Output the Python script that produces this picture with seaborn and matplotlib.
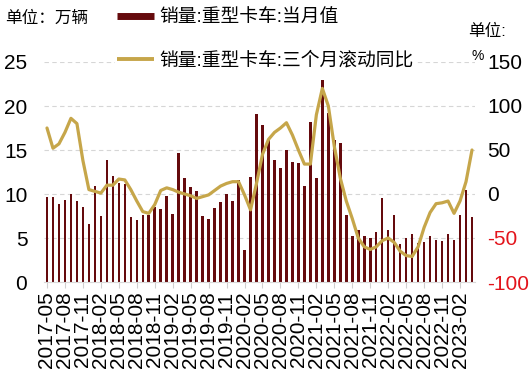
import numpy as np
import pandas as pd
import matplotlib
matplotlib.use("Agg")
import matplotlib.pyplot as plt
import seaborn as sns
from matplotlib.lines import Line2D

# ---- data ----
months = pd.date_range("2017-05-01", periods=72, freq="MS").strftime("%Y-%m").tolist()

sales = [9.7, 9.7, 8.9, 9.3, 10.0, 9.2, 8.5, 6.6, 10.9, 7.5, 13.9, 12.1,
         11.3, 11.1, 7.4, 7.1, 7.6, 7.6, 8.5, 8.3, 9.8, 7.7, 14.7, 11.8,
         10.8, 10.3, 7.5, 7.2, 8.4, 9.1, 10.0, 9.2, 11.6, 3.6, 11.9, 19.1,
         17.8, 16.3, 13.9, 12.9, 15.0, 13.6, 13.5, 10.9, 18.2, 11.8, 22.9, 19.2,
         16.1, 15.8, 7.6, 5.2, 5.9, 5.2, 5.0, 5.7, 9.5, 5.9, 7.6, 4.3,
         5.0, 5.5, 4.4, 4.6, 5.2, 4.8, 4.7, 5.4, 4.8, 7.6, 10.5, 7.4]

yoy3m = [75, 52, 57, 70, 86, 80, 38, 5, 3, 1, 10, 10,
         17, 16, 5, -8, -20, -22, -12, 4, 7, 5, 2, 0,
         -2, -5, -3, -1, 4, 9, 12, 14, 14, -1, -18, 12,
         45, 62, 70, 75, 81, 67, 50, 34, 34, 90, 120, 100,
         54, 18, -8, -28, -50, -60, -63, -60, -53, -50, -55, -65,
         -70, -71, -60, -38, -21, -11, -10, -8, -22, -8, 14, 50]

legend_bar = "销量:重型卡车:当月值"
legend_line = "销量:重型卡车:三个月滚动同比"
left_unit = "单位：万辆"
right_unit = "单位:"
right_unit2 = "%"

left_ticks = [0, 5, 10, 15, 20, 25]
right_ticks = [-100, -50, 0, 50, 100, 150]

bar_color = "#650a0d"
line_color = "#c6a64a"
neg_color = "#e3141b"

# ---- style ----
sns.set_theme(style="white")
plt.rcParams["font.family"] = ["Liberation Sans", "Noto Sans CJK SC"]

W, H = 531, 373
fig = plt.figure(figsize=(W / 100, H / 100), dpi=100)
ax = fig.add_axes([44 / W, 1 - 282 / H, 431 / W, 220 / H])

df = pd.DataFrame({"month": months, "sales": sales, "yoy": yoy3m})
sns.barplot(data=df, x="month", y="sales", color=bar_color, saturation=1,
            width=0.42, linewidth=0, ax=ax)

ax.set_xlim(-0.5, len(months) - 0.5)
ax.set_ylim(0, 25)
ax.set_yticks(left_ticks)
ax.set_yticklabels([str(t) for t in left_ticks])
ax.set_xticks(range(0, len(months), 3))
ax.set_xticklabels(months[::3], rotation=90)
ax.set_xlabel("")
ax.set_ylabel("")
ax.grid(axis="y", color="#d6d6d6", linestyle=(0, (4, 3)), linewidth=0.8)
ax.grid(axis="x", visible=False)
ax.set_axisbelow(True)
for s in ["top", "left", "right"]:
    ax.spines[s].set_visible(False)
ax.spines["bottom"].set_color("#d9d9d9")
ax.spines["bottom"].set_linewidth(0.8)
ax.tick_params(axis="x", length=4, width=0.8, color="#d0d0d0", pad=3,
               labelsize=15, labelcolor="black", bottom=True)
ax.tick_params(axis="y", length=0, pad=12, labelsize=15, labelcolor="black")

ax2 = ax.twinx()
sns.lineplot(x=np.arange(len(yoy3m)), y=yoy3m, ax=ax2, color=line_color,
             linewidth=2.3)
ax2.set_xlim(-0.5, len(months) - 0.5)
ax2.set_ylim(-100, 150)
ax2.set_yticks(right_ticks)
ax2.set_yticklabels([str(t) for t in right_ticks])
ax2.grid(False)
for s in ["top", "left", "right", "bottom"]:
    ax2.spines[s].set_visible(False)
ax2.tick_params(axis="y", length=0, pad=9, labelsize=15)
for lbl, v in zip(ax2.get_yticklabels(), right_ticks):
    lbl.set_color(neg_color if v < 0 else "black")
ax2.set_ylabel("")

# ---- legends ----
h1 = Line2D([0], [0], color=bar_color, lw=5, solid_capstyle="butt")
h2 = Line2D([0], [0], color=line_color, lw=2.8, solid_capstyle="butt")
common = dict(loc="center left", fontsize=13.5, handlelength=2.0,
              handletextpad=0.25, borderpad=0.1, borderaxespad=0,
              labelcolor="black")
fig.legend(handles=[h1], labels=[legend_bar],
           bbox_to_anchor=(115 / W, 1 - 18 / H), frameon=False, **common)
fig.legend(handles=[h2], labels=[legend_line],
           bbox_to_anchor=(115 / W, 1 - 61 / H), frameon=True,
           facecolor="white", edgecolor="none", framealpha=1,
           fancybox=False, **common)

# ---- unit texts ----
fig.text(5 / W, 1 - 18 / H, left_unit, fontsize=12, va="center", ha="left",
         color="black")
fig.text(468 / W, 1 - 31 / H, right_unit, fontsize=12, va="center", ha="left",
         color="black")
fig.text(471 / W, 1 - 56 / H, right_unit2, fontsize=10, va="center", ha="left",
         color="black")

fig.savefig("out.png", dpi=100)
